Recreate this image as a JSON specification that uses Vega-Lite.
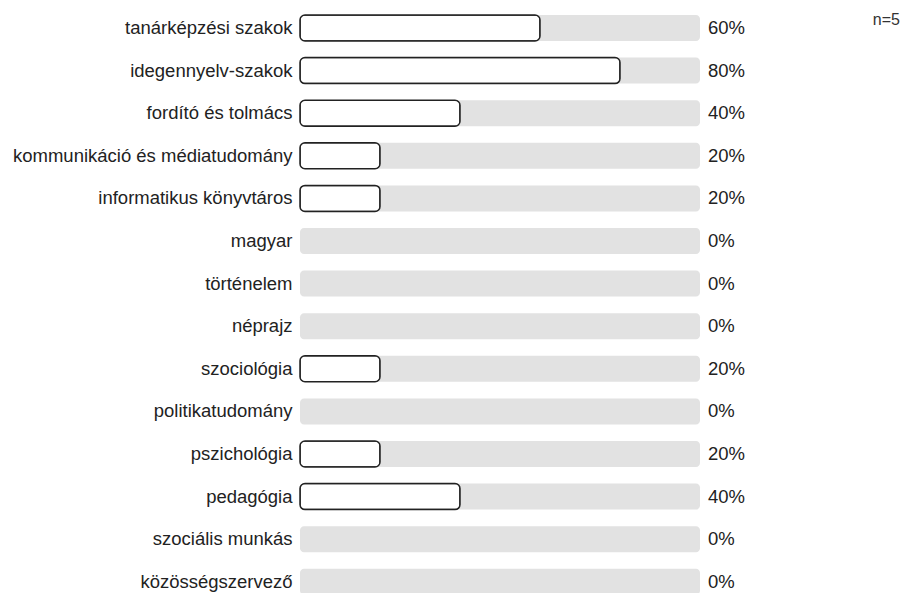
{
  "$schema": "https://vega.github.io/schema/vega-lite/v6.json",
  "width": 400,
  "height": 596.4,
  "autosize": "none",
  "padding": {"left": 300, "top": 6.7, "right": 202, "bottom": 0},
  "background": "white",
  "config": {"view": {"stroke": null}, "font": "Liberation Sans"},
  "title": {"text": "n=5", "anchor": "end", "frame": "group", "orient": "top", "dx": 200, "dy": 25, "fontSize": 16, "fontWeight": "normal", "color": "#333"},
  "data": {"values": [
    {"label": "tanárképzési szakok", "value": 0.6},
    {"label": "idegennyelv-szakok", "value": 0.8},
    {"label": "fordító és tolmács", "value": 0.4},
    {"label": "kommunikáció és médiatudomány", "value": 0.2},
    {"label": "informatikus könyvtáros", "value": 0.2},
    {"label": "magyar", "value": 0},
    {"label": "történelem", "value": 0},
    {"label": "néprajz", "value": 0},
    {"label": "szociológia", "value": 0.2},
    {"label": "politikatudomány", "value": 0},
    {"label": "pszichológia", "value": 0.2},
    {"label": "pedagógia", "value": 0.4},
    {"label": "szociális munkás", "value": 0},
    {"label": "közösségszervező", "value": 0}
  ]},
  "encoding": {
    "y": {"field": "label", "type": "nominal", "sort": null,
      "scale": {"paddingInner": 0.39, "paddingOuter": 0.195},
      "axis": {"title": null, "domain": false, "ticks": false, "labelPadding": 8, "labelFontSize": 18.5, "labelColor": "#222", "labelLimit": 400}}
  },
  "layer": [
    {"mark": {"type": "bar", "color": "#e2e2e2", "cornerRadius": 4},
     "encoding": {"x": {"datum": 1, "type": "quantitative", "scale": {"domain": [0, 1]}, "axis": null}}},
    {"transform": [{"filter": "datum.value > 0"}],
     "mark": {"type": "bar", "fill": "white", "stroke": "#222", "strokeWidth": 1.5, "cornerRadius": 5},
     "encoding": {"x": {"field": "value", "type": "quantitative"}}},
    {"mark": {"type": "text", "align": "left", "dx": 8, "fontSize": 18.5, "color": "#222"},
     "encoding": {"x": {"datum": 1, "type": "quantitative"}, "text": {"field": "value", "format": ".0%"}}}
  ]
}
